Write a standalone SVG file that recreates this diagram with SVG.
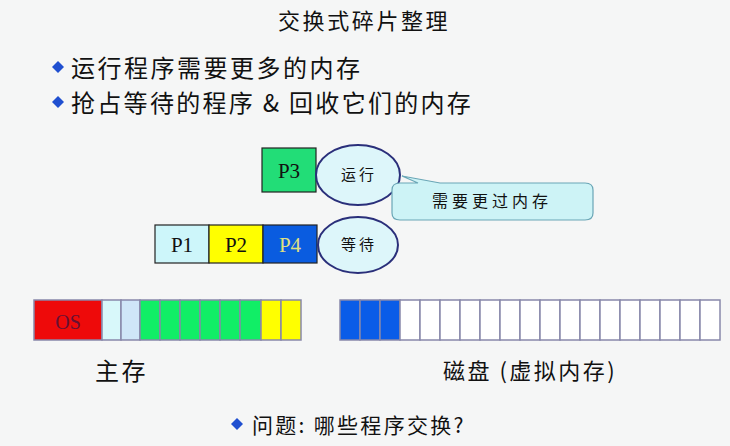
<svg xmlns="http://www.w3.org/2000/svg" width="730" height="446" viewBox="0 0 730 446">
<style>
text{font-family:"Liberation Serif","Noto Sans CJK SC",serif;fill:#111}
.cn{font-family:"Noto Sans CJK SC",serif}
.c{stroke:#8888aa;stroke-width:1.5}
.b{stroke:#222;stroke-width:1.2}
.ell{fill:#ddf6fa;stroke:#2a2f7a;stroke-width:2}
.dia{fill:#1f4fd0}
</style>
<rect width="730" height="446" fill="#f5f6f6"/>
<text x="278" y="29" font-size="22" letter-spacing="2.6" class="cn">交换式碎片整理</text>
<path class="dia" d="M58 61l6 6-6 6-6-6z"/>
<text x="71" y="77" font-size="24" letter-spacing="2.5" class="cn">运行程序需要更多的内存</text>
<path class="dia" d="M58 96l6 6-6 6-6-6z"/>
<text x="71" y="112" font-size="24" letter-spacing="2.3" class="cn">抢占等待的程序 &amp; 回收它们的内存</text>
<g id="p3"><rect x="262" y="148" width="54" height="44" fill="#22dd77" class="b"/><text x="289" y="178" font-size="21" text-anchor="middle">P3</text></g>
<g id="run"><ellipse cx="358" cy="175" rx="42" ry="30" class="ell"/><text x="341" y="180" font-size="15" letter-spacing="3" class="cn">运行</text></g>
<g id="callout"><path d="M402 176 L440 183 L585 183 Q593 183 593 190 L593 213 Q593 220 585 220 L400 220 Q392 220 392 213 L392 190 Q392 183 400 183 L418 183 Z" fill="#cdf3f6" stroke="#6aa6b6" stroke-width="1.2"/><text x="432" y="207" font-size="16" letter-spacing="4" class="cn" fill="#334">需要更过内存</text></g>
<g id="p1"><rect x="155" y="225" width="54" height="38" fill="#cdf6fa" class="b"/><text x="182" y="252" font-size="21" text-anchor="middle">P1</text></g>
<g id="p2"><rect x="209" y="225" width="54" height="38" fill="#ffff00" class="b"/><text x="236" y="252" font-size="21" text-anchor="middle">P2</text></g>
<g id="p4"><rect x="263" y="225" width="54" height="38" fill="#0a5ce0" class="b"/><text x="290" y="252" font-size="21" text-anchor="middle" style="fill:#e0e080">P4</text></g>
<g id="wait"><ellipse cx="358" cy="245" rx="40" ry="28" class="ell"/><text x="341" y="250" font-size="15" letter-spacing="3" class="cn">等待</text></g>
<g id="mem">
<rect x="34" y="300" width="68" height="40" fill="#ee0a0a" class="c"/><text x="68" y="329" font-size="20" text-anchor="middle" style="fill:#661133">OS</text>
<rect x="102" y="300" width="19" height="40" fill="#d8f8fa" class="c"/>
<rect x="121" y="300" width="19" height="40" fill="#cfe6f8" class="c"/>
<g fill="#11ee66" class="c"><rect x="140" y="300" width="20" height="40"/><rect x="160" y="300" width="20" height="40"/><rect x="180" y="300" width="20" height="40"/><rect x="200" y="300" width="20" height="40"/><rect x="220" y="300" width="20" height="40"/><rect x="240" y="300" width="21" height="40"/></g>
<g fill="#ffff00" class="c"><rect x="261" y="300" width="20" height="40"/><rect x="281" y="300" width="20" height="40"/></g>
</g>
<g id="disk">
<g fill="#0a5ce8" class="c"><rect x="340" y="300" width="20" height="40"/><rect x="360" y="300" width="20" height="40"/><rect x="380" y="300" width="20" height="40"/></g>
<g fill="#fff" class="c"><rect x="400" y="300" width="20" height="40"/><rect x="420" y="300" width="20" height="40"/><rect x="440" y="300" width="20" height="40"/><rect x="460" y="300" width="20" height="40"/><rect x="480" y="300" width="20" height="40"/><rect x="500" y="300" width="20" height="40"/><rect x="520" y="300" width="20" height="40"/><rect x="540" y="300" width="20" height="40"/><rect x="560" y="300" width="20" height="40"/><rect x="580" y="300" width="20" height="40"/><rect x="600" y="300" width="20" height="40"/><rect x="620" y="300" width="20" height="40"/><rect x="640" y="300" width="20" height="40"/><rect x="660" y="300" width="20" height="40"/><rect x="680" y="300" width="20" height="40"/><rect x="700" y="300" width="20" height="40"/></g>
</g>
<text x="95" y="380" font-size="24" letter-spacing="2.5" class="cn">主存</text>
<text x="443" y="379" font-size="22" letter-spacing="2.5" class="cn">磁盘 (虚拟内存)</text>
<path class="dia" d="M237 418l6 6-6 6-6-6z"/>
<text x="252" y="433" font-size="21" letter-spacing="2.3" class="cn">问题: 哪些程序交换?</text>
</svg>
